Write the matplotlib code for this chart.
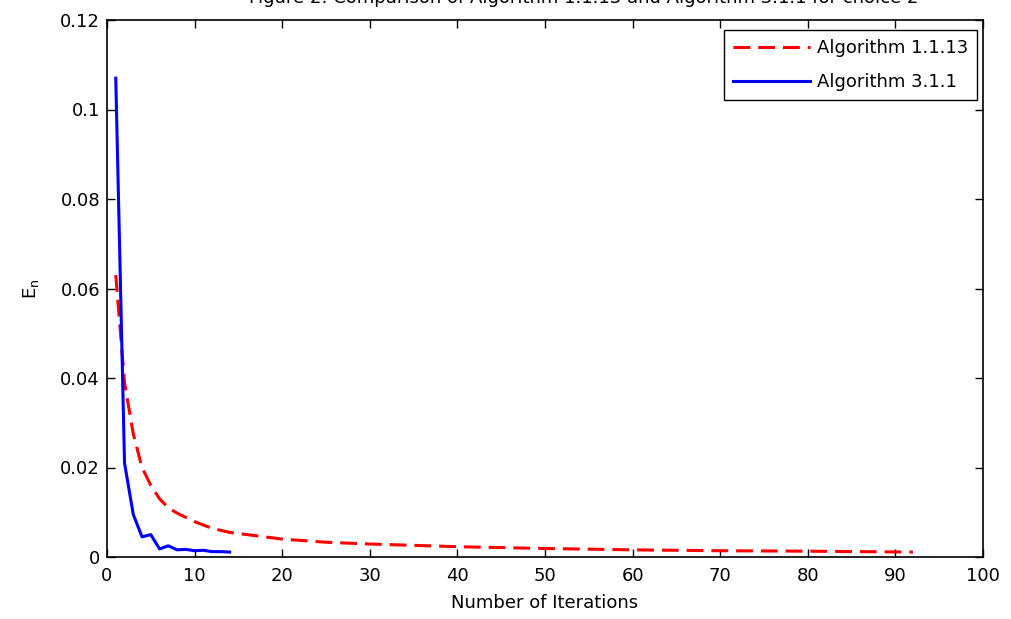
import matplotlib
matplotlib.use("Agg")
import matplotlib.pyplot as plt

# ----------------- Data -----------------
iters_a = [1, 2, 3, 4, 5, 6, 7, 8, 10, 12, 14, 16, 20, 25, 30, 35, 40, 50, 60, 70, 80, 92]
err_a = [0.063, 0.039, 0.0275, 0.0200, 0.0160, 0.0130, 0.0110, 0.0098, 0.0079, 0.0064,
         0.0055, 0.0050, 0.0040, 0.0033, 0.0029, 0.0026, 0.0023, 0.0019, 0.0016,
         0.0014, 0.0013, 0.0011]

iters_b = [1, 2, 3, 4, 5, 6, 7, 8, 9, 10, 11, 12, 13, 14]
err_b = [0.107, 0.021, 0.0095, 0.0045, 0.0050, 0.0018, 0.0025, 0.0016, 0.0017,
         0.0014, 0.0015, 0.0012, 0.0012, 0.0011]

label_a = "Algorithm 1.1.13"
label_b = "Algorithm 3.1.1"
title = "Figure 2: Comparison of Algorithm 1.1.13 and Algorithm 3.1.1 for choice 2"

x_ticks = [0, 10, 20, 30, 40, 50, 60, 70, 80, 90, 100]
y_ticks = [0, 0.02, 0.04, 0.06, 0.08, 0.1, 0.12]
y_ticklabels = ["0", "0.02", "0.04", "0.06", "0.08", "0.1", "0.12"]

# ----------------- Plot -----------------
plt.rcParams["font.family"] = ["DejaVu Sans"]
plt.rcParams["font.size"] = 13

W, H = 1011, 619
fig = plt.figure(figsize=(W / 100, H / 100), dpi=100)
ax = fig.add_axes([107 / W, 1 - 557 / H, 876 / W, 537 / H])

ax.plot(iters_a, err_a, color="red", lw=2.2, dashes=(5.5, 2.6), label=label_a)
ax.plot(iters_b, err_b, color="blue", lw=2.2, label=label_b)

ax.set_xlim(0, 100)
ax.set_ylim(0, 0.12)
ax.set_xticks(x_ticks)
ax.set_yticks(y_ticks)
ax.set_yticklabels(y_ticklabels)
ax.tick_params(direction="in", top=True, right=True, length=6, width=1)
ax.tick_params(axis="x", pad=7)
ax.tick_params(axis="y", pad=5)
for s in ax.spines.values():
    s.set_linewidth(1.2)

ax.set_xlabel("Number of Iterations", labelpad=7)
ax.set_ylabel(r"E$_{\mathrm{n}}$", labelpad=14)

leg = ax.legend(loc="upper right", bbox_to_anchor=(977 / W, 1 - 30 / H),
                bbox_transform=fig.transFigure, borderaxespad=0,
                fancybox=False, edgecolor="black", framealpha=1,
                handlelength=4.3, handletextpad=0.35, borderpad=0.5,
                labelspacing=0.9)
leg.get_frame().set_linewidth(1.0)

# title is cut off at the top edge in the reference
fig.text(584 / W, 1 - 3 / H, title, ha="center", va="baseline")

fig.savefig("out.png", dpi=100)
